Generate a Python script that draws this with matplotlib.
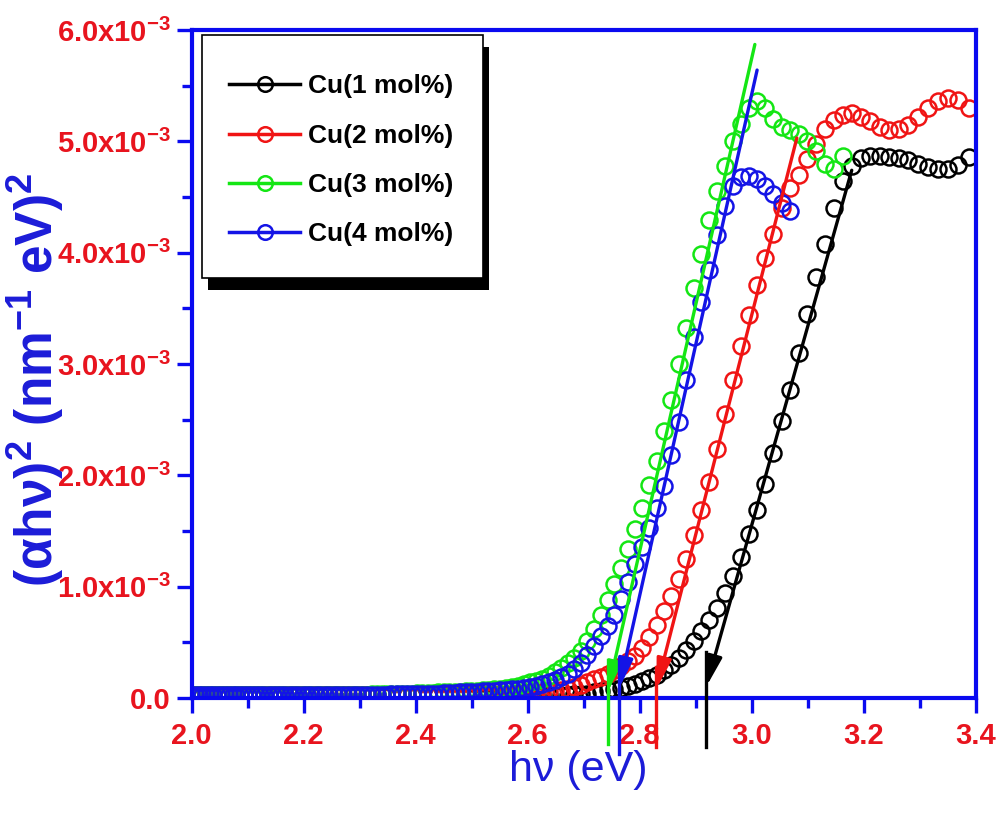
import numpy as np
import matplotlib
matplotlib.use("Agg")
import matplotlib.pyplot as plt
from matplotlib.lines import Line2D
from matplotlib.patches import Rectangle
from matplotlib.ticker import MultipleLocator

plt.rcParams['font.family'] = ['Liberation Sans', 'DejaVu Sans']
plt.rcParams['font.weight'] = 'bold'
plt.rcParams['mathtext.fontset'] = 'custom'
plt.rcParams['mathtext.rm'] = 'Liberation Sans:bold'
plt.rcParams['mathtext.it'] = 'Liberation Sans:bold'
plt.rcParams['mathtext.bf'] = 'Liberation Sans:bold'

# ---------------- data ----------------
# measurement grid: wavelength (nm), 2 nm step, converted to photon energy
wavelength_nm = np.arange(620, 364, -2)
energy_eV = 1239.84 / wavelength_nm

labels = ['Cu(1 mol%)', 'Cu(2 mol%)', 'Cu(3 mol%)', 'Cu(4 mol%)']
colors = ['#000000', '#F01414', '#14E614', '#1414E6']

# (alpha h nu)^2 in units of 1e-3 nm^-2 eV^2
cu1 = [0.03, 0.03, 0.03, 0.03, 0.03, 0.03, 0.03, 0.03, 0.03, 0.03, 0.03, 0.03, 0.03, 0.03, 0.03,
       0.03, 0.03, 0.03, 0.03, 0.03, 0.03, 0.03, 0.03, 0.03, 0.03, 0.03, 0.03, 0.03, 0.03, 0.03,
       0.03, 0.03, 0.03, 0.03, 0.03, 0.03, 0.03, 0.03, 0.03, 0.03, 0.03, 0.03, 0.03, 0.03, 0.03,
       0.03, 0.03, 0.03, 0.03, 0.03, 0.03, 0.03, 0.03, 0.03, 0.03, 0.03, 0.03, 0.03, 0.03, 0.03,
       0.03, 0.03, 0.03, 0.03, 0.03, 0.03, 0.03, 0.03, 0.03, 0.03, 0.03, 0.03, 0.03, 0.03, 0.03,
       0.03, 0.03, 0.03, 0.03, 0.035, 0.035, 0.04,
       0.05, 0.06, 0.07, 0.08, 0.09, 0.11, 0.13, 0.15, 0.18, 0.21, 0.25, 0.30, 0.36, 0.43, 0.51,
       0.60, 0.70, 0.81, 0.94, 1.10, 1.27, 1.47, 1.69, 1.92, 2.20, 2.49, 2.77, 3.10, 3.45, 3.78,
       4.08, 4.40, 4.64, 4.78, 4.85, 4.87, 4.87, 4.86, 4.85, 4.83, 4.80, 4.77, 4.75, 4.75, 4.79,
       4.86]
cu2 = [0.03, 0.03, 0.03, 0.03, 0.03, 0.03, 0.03, 0.03, 0.03, 0.03, 0.03, 0.03, 0.03, 0.03, 0.03,
       0.03, 0.03, 0.03, 0.03, 0.03, 0.03, 0.03, 0.03, 0.03, 0.03, 0.03, 0.03, 0.03, 0.03, 0.03,
       0.03, 0.03, 0.03, 0.03, 0.03, 0.03, 0.03, 0.03, 0.03, 0.03, 0.03, 0.03, 0.03, 0.03, 0.03,
       0.03, 0.03, 0.03, 0.03, 0.03, 0.03, 0.03, 0.03, 0.03, 0.03, 0.03, 0.03, 0.03, 0.03, 0.03,
       0.03, 0.03, 0.03, 0.035, 0.035, 0.035, 0.035, 0.04, 0.04, 0.04, 0.045, 0.045, 0.05, 0.05, 0.055,
       0.06, 0.065, 0.07, 0.08, 0.10, 0.12, 0.14, 0.17, 0.19, 0.22, 0.25, 0.29, 0.33, 0.38, 0.45,
       0.55, 0.66, 0.78, 0.92, 1.07, 1.25, 1.46, 1.69, 1.94, 2.24, 2.55, 2.86, 3.16, 3.44, 3.71,
       3.95, 4.17, 4.40, 4.58, 4.70, 4.84, 4.98, 5.11, 5.19, 5.24, 5.25, 5.22, 5.18, 5.13, 5.10,
       5.11, 5.15, 5.22, 5.30, 5.36, 5.39, 5.37, 5.30]
cu3 = [0.03, 0.03, 0.03, 0.03, 0.03, 0.03, 0.03, 0.03, 0.03, 0.03, 0.03, 0.03, 0.03, 0.03, 0.03,
       0.03, 0.03, 0.03, 0.03, 0.03, 0.03, 0.03, 0.03, 0.03, 0.03, 0.03, 0.03, 0.03, 0.03, 0.03,
       0.03, 0.03, 0.03, 0.03, 0.03, 0.03, 0.03, 0.03, 0.03, 0.03,
       0.03, 0.03, 0.03, 0.035, 0.035, 0.035, 0.035, 0.04, 0.04, 0.04, 0.04, 0.04, 0.045, 0.045, 0.045,
       0.045, 0.05, 0.05, 0.05, 0.055, 0.055, 0.06, 0.06, 0.065, 0.07, 0.075, 0.08, 0.085, 0.09, 0.10,
       0.11, 0.125, 0.14, 0.155, 0.175,
       0.20, 0.23, 0.27, 0.31, 0.36, 0.42, 0.51, 0.62, 0.75, 0.88, 1.02, 1.17, 1.34, 1.52, 1.71,
       1.91, 2.13, 2.40, 2.68, 3.00, 3.32, 3.68, 3.99, 4.29, 4.55, 4.78, 5.00, 5.16, 5.30, 5.36,
       5.30, 5.20, 5.13, 5.10, 5.07, 5.00, 4.91, 4.80, 4.75, 4.87]
cu4 = [0.03, 0.03, 0.03, 0.03, 0.03, 0.03, 0.03, 0.03, 0.03, 0.03, 0.03, 0.03, 0.03, 0.03, 0.03,
       0.03, 0.03, 0.03, 0.03, 0.03, 0.03, 0.03, 0.03, 0.03, 0.03, 0.03, 0.03, 0.03, 0.03, 0.03,
       0.03, 0.03, 0.03, 0.03, 0.03, 0.03, 0.03, 0.03, 0.03, 0.03,
       0.03, 0.03, 0.03, 0.03, 0.03, 0.03, 0.03, 0.035, 0.035, 0.035, 0.035, 0.035, 0.04, 0.04, 0.04,
       0.04, 0.04, 0.045, 0.045, 0.045, 0.05, 0.05, 0.055, 0.055, 0.06, 0.06, 0.065, 0.07, 0.075, 0.08,
       0.085, 0.09, 0.10, 0.11, 0.125,
       0.14, 0.16, 0.19, 0.22, 0.26, 0.31, 0.39, 0.47, 0.56, 0.65, 0.75, 0.89, 1.04, 1.20, 1.36,
       1.53, 1.71, 1.90, 2.18, 2.48, 2.86, 3.24, 3.56, 3.84, 4.16, 4.42, 4.60, 4.68, 4.69, 4.66,
       4.60, 4.53, 4.45, 4.37]
series = [cu1, cu2, cu3, cu4]

# linear fits (Tauc extrapolation): upper point of each fitted line and band gap
fit_top_E = [3.179, 3.081, 3.006, 3.010]
fit_top_y = [4.74, 5.03, 5.87, 5.64]          # 1e-3 units
band_gap_eV = [2.919, 2.830, 2.743, 2.763]
arrow_tip_y = [0.10, 0.08, 0.05, 0.08]        # 1e-3 units
vline_top_y = [0.41, 0.28, 0.34, 0.36]        # 1e-3 units
vline_bottom_y = [-0.44, -0.44, -0.41, -0.50]  # 1e-3 units

xticks = [2.0, 2.2, 2.4, 2.6, 2.8, 3.0, 3.2, 3.4]
xtick_labels = ['2.0', '2.2', '2.4', '2.6', '2.8', '3.0', '3.2', '3.4']
yticks = [0.0, 1.0, 2.0, 3.0, 4.0, 5.0, 6.0]   # 1e-3 units
ytick_labels = ['0.0'] + [r'%.1fx10$^{-3}$' % v for v in yticks[1:]]

# ---------------- figure ----------------
BLUE = '#0A0AF0'
RED = '#E8141E'
LBLUE = '#1C1CD8'

fig = plt.figure(figsize=(9.98, 8.13), dpi=100)
fig.patch.set_facecolor('white')
W, H = 998, 813
L, R, T, B = 191.5, 975.5, 30, 698
ax = fig.add_axes([L / W, (H - B) / H, (R - L) / W, (B - T) / H])
ax.set_facecolor('white')


def ax_x(px):
    return (px - L) / (R - L)


def ax_y(py):
    return (B - py) / (B - T)


for ys, c in zip(series, colors):
    n = len(ys)
    ax.plot(energy_eV[:n], np.array(ys) * 1e-3, linestyle='none', marker='o',
            ms=11.5, mfc='none', mec=c, mew=1.8, zorder=3)

for i, c in enumerate(colors):
    ax.annotate('', xy=(band_gap_eV[i], arrow_tip_y[i] * 1e-3),
                xytext=(fit_top_E[i], fit_top_y[i] * 1e-3),
                arrowprops=dict(arrowstyle='-|>,head_length=0.9,head_width=0.22',
                                color=c, lw=2.4, mutation_scale=20,
                                shrinkA=0, shrinkB=0), zorder=6)
    ax.plot([band_gap_eV[i], band_gap_eV[i]],
            [vline_top_y[i] * 1e-3, vline_bottom_y[i] * 1e-3],
            color=c, lw=2.4, clip_on=False, zorder=6)

ax.set_xlim(2.0, 3.4)
ax.set_ylim(0, 6e-3)
ax.set_xticks(xticks)
ax.set_xticklabels(xtick_labels)
ax.set_yticks([v * 1e-3 for v in yticks])
ax.set_yticklabels(ytick_labels)
ax.xaxis.set_minor_locator(MultipleLocator(0.1))
ax.yaxis.set_minor_locator(MultipleLocator(0.5e-3))

for s in ax.spines.values():
    s.set_color(BLUE)
    s.set_linewidth(3.0)
    s.set_zorder(5)

ax.tick_params(which='major', direction='out', length=11, width=2.4, color=BLUE,
               labelcolor=RED, labelsize=21)
ax.tick_params(which='minor', direction='out', length=7, width=2.4, color=BLUE)
ax.tick_params(axis='x', which='major', pad=6)
ax.tick_params(axis='y', which='major', pad=4)
for lab in ax.get_xticklabels() + ax.get_yticklabels():
    lab.set_fontweight('bold')

ax.set_xlabel('hν (eV)', color=LBLUE, fontsize=31, fontweight='normal')
ax.xaxis.set_label_coords(ax_x(578), ax_y(750))
ax.set_ylabel(r'(αhν)$^{2}$ (nm$^{-1}$ eV)$^{2}$', color=LBLUE, fontsize=37,
              fontweight='bold')
ax.yaxis.set_label_coords(ax_x(66), ax_y(380))

# legend box (frame + offset shadow) drawn in axes coordinates
box_x0, box_x1, box_y0, box_y1 = ax_x(202), ax_x(483), ax_y(278), ax_y(35)
sh_dx = 6 / (R - L)
sh_dy = 12 / (B - T)
ax.add_patch(Rectangle((box_x0 + sh_dx, box_y0 - sh_dy), box_x1 - box_x0, box_y1 - box_y0,
                       transform=ax.transAxes, facecolor='black', edgecolor='none',
                       zorder=8, clip_on=False))
ax.add_patch(Rectangle((box_x0, box_y0), box_x1 - box_x0, box_y1 - box_y0,
                       transform=ax.transAxes, facecolor='white', edgecolor='black',
                       lw=1.2, zorder=8.5, clip_on=False))

handles = [Line2D([], [], color=c, lw=2.5, marker='o', ms=10.5, mfc='none', mec=c, mew=1.8)
           for c in colors]
leg = ax.legend(handles, labels, loc='center',
                bbox_to_anchor=((box_x0 + box_x1) / 2 - 1 / (R - L),
                                (box_y0 + box_y1) / 2 - 4 / (B - T)),
                borderaxespad=0, frameon=False, borderpad=0, labelspacing=0.96,
                handlelength=2.7, handletextpad=0.3,
                prop={'weight': 'bold', 'size': 19})
leg.set_zorder(10)

fig.savefig('out.png', dpi=100, facecolor='white')
